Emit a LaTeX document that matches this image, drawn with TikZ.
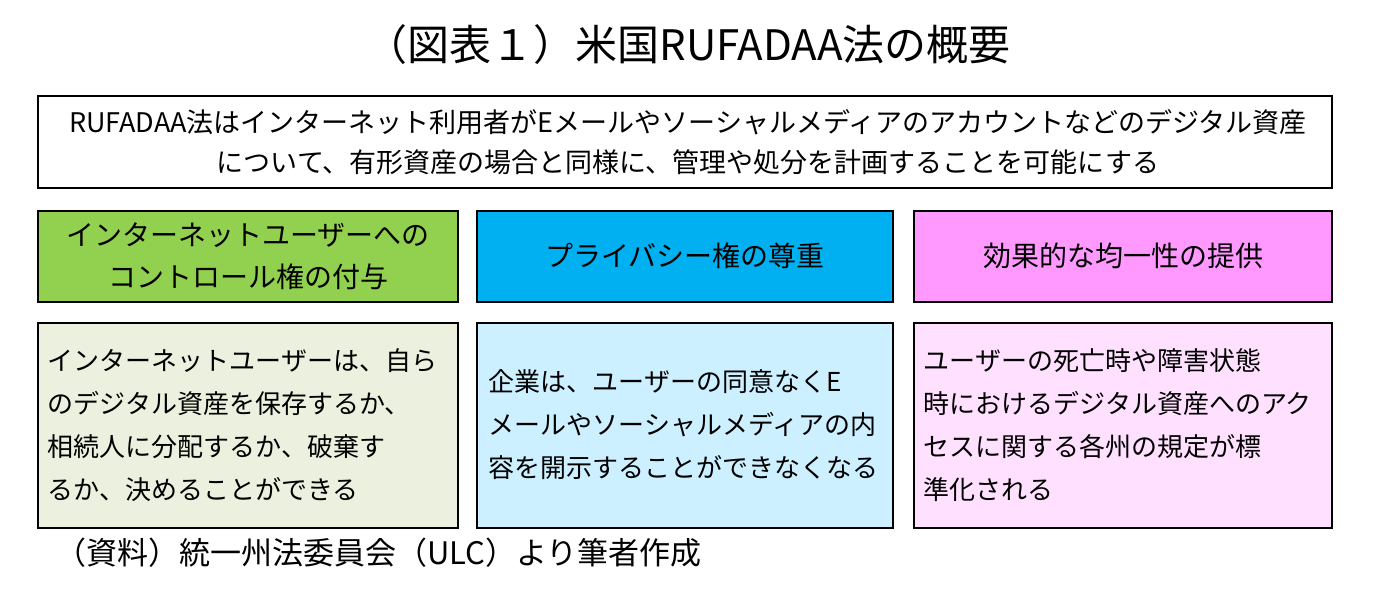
\documentclass[tikz,border=0pt]{standalone}
\usepackage{fontspec}
\setmainfont{Noto Sans CJK JP}
\definecolor{hgreen}{HTML}{92D050}
\definecolor{hblue}{HTML}{00B0F0}
\definecolor{hpink}{HTML}{FF99FF}
\definecolor{lgreen}{HTML}{EBF1DE}
\definecolor{lblue}{HTML}{CCF0FF}
\definecolor{lpink}{HTML}{FFE1FF}
\begin{document}
\begin{tikzpicture}[x=1pt,y=-1pt,
    panel/.style={draw=black, line width=2.5pt, inner sep=0pt},
    txt/.style={font=\fontsize{27}{40}\selectfont, align=center},
    htxt/.style={font=\fontsize{28}{42}\selectfont, align=center},
    ltxt/.style={font=\fontsize{26}{43}\selectfont, align=left, anchor=west}
    ]
    \useasboundingbox (0,0) rectangle (1376,614);
    % title
    \node (title) [font=\fontsize{42}{48}\selectfont] at (688,45) {（図表１）米国RUFADAA法の概要};
    % summary
    \draw[panel] (38,96) rectangle (1332,188);
    \node (sum) [txt] at (688,142) {RUFADAA法はインターネット利用者がEメールやソーシャルメディアのアカウントなどのデジタル資産\\について、有形資産の場合と同様に、管理や処分を計画することを可能にする};
    % headers
    \draw[panel, fill=hgreen] (38,211) rectangle (458,302);
    \draw[panel, fill=hblue] (477,211) rectangle (893,302);
    \draw[panel, fill=hpink] (914,211) rectangle (1332,302);
    \node (hcontrol) [htxt] at (248,256) {インターネットユーザーへの\\コントロール権の付与};
    \node (hprivacy) [htxt] at (685,256) {プライバシー権の尊重};
    \node (hunify) [htxt] at (1123,256) {効果的な均一性の提供};
    % details
    \draw[panel, fill=lgreen] (38,323) rectangle (458,528);
    \draw[panel, fill=lblue] (477,323) rectangle (893,528);
    \draw[panel, fill=lpink] (914,323) rectangle (1332,528);
    \node (dcontrol) [ltxt] at (44,425) {インターネットユーザーは、自ら\\のデジタル資産を保存するか、\\相続人に分配するか、破棄す\\るか、決めることができる};
    \node (dprivacy) [ltxt] at (485,425) {企業は、ユーザーの同意なくE\\メールやソーシャルメディアの内\\容を開示することができなくなる};
    \node (dunify) [ltxt] at (920,425) {ユーザーの死亡時や障害状態\\時におけるデジタル資産へのアク\\セスに関する各州の規定が標\\準化される};
    % source
    \node (src) [font=\fontsize{31}{34}\selectfont, anchor=west] at (52,553) {（資料）統一州法委員会（ULC）より筆者作成};
\end{tikzpicture}
\end{document}
